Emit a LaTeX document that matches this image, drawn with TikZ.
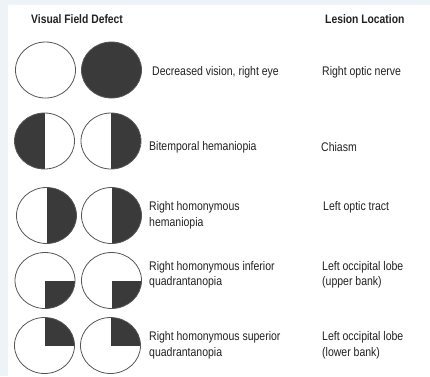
\documentclass[tikz,border=0pt]{standalone}
\usepackage{fontspec}
\setmainfont{Liberation Sans}[FakeStretch=0.84]
\usetikzlibrary{shapes.geometric}
\definecolor{bgblue}{HTML}{EEF3F8}
\definecolor{dark}{HTML}{3A3A3A}
\definecolor{rim}{HTML}{555555}
\definecolor{txt}{HTML}{222222}
\begin{document}
\begin{tikzpicture}[x=1pt,y=-1pt,
  eye/.style={ellipse,draw=rim,line width=0.8pt,fill=white,minimum width=60pt,minimum height=56pt,inner sep=0pt},
  fullfill/.style={fill=dark},
  lefthalf/.style={path picture={\fill[dark] (path picture bounding box.north west) rectangle (path picture bounding box.south);}},
  righthalf/.style={path picture={\fill[dark] (path picture bounding box.north) rectangle (path picture bounding box.south east);}},
  lowright/.style={path picture={\fill[dark] (path picture bounding box.center) rectangle (path picture bounding box.south east);}},
  upright/.style={path picture={\fill[dark] (path picture bounding box.center) rectangle (path picture bounding box.north east);}},
  lbl/.style={anchor=west,inner sep=0pt,text=txt,font=\fontsize{12.5}{15.5}\selectfont,align=left},
  hdr/.style={anchor=west,inner sep=0pt,text=txt,font=\fontsize{12.3}{15}\selectfont\bfseries},
]
\useasboundingbox (0,0) rectangle (430,376);
\fill[bgblue] (0,0) rectangle (430,376);
\fill[white] (8,5) rectangle (430,376);

\node[hdr] (h1) at (31,19) {Visual Field Defect};
\node[hdr] (h2) at (325,19) {Lesion Location};

% row 1
\node[eye] (a1) at (45.5,70) {};
\node[eye,fullfill] (b1) at (111.5,70) {};
\node[lbl] (d1) at (152,72) {Decreased vision, right eye};
\node[lbl] (l1) at (322,72) {Right optic nerve};

% row 2
\node[eye,lefthalf] (a2) at (44.5,141) {};
\node[eye,righthalf] (b2) at (111,141) {};
\node[lbl] (d2) at (149,147) {Bitemporal hemaniopia};
\node[lbl] (l2) at (321,147) {Chiasm};

% row 3
\node[eye,righthalf] (a3) at (46.5,215.5) {};
\node[eye,righthalf] (b3) at (111.5,215.5) {};
\node[lbl] (d3) at (149,215.5) {Right homonymous\\hemaniopia};
\node[lbl] (l3) at (323,207.5) {Left optic tract};

% row 4
\node[eye,lowright] (a4) at (45,280.5) {};
\node[eye,lowright] (b4) at (111.5,280.5) {};
\node[lbl] (d4) at (149,275) {Right homonymous inferior\\quadrantanopia};
\node[lbl] (l4) at (322,275) {Left occipital lobe\\(upper bank)};

% row 5
\node[eye,upright] (a5) at (44.5,345.5) {};
\node[eye,upright] (b5) at (110.5,345.5) {};
\node[lbl] (d5) at (149,345.5) {Right homonymous superior\\quadrantanopia};
\node[lbl] (l5) at (322,345.5) {Left occipital lobe\\(lower bank)};
\end{tikzpicture}
\end{document}
